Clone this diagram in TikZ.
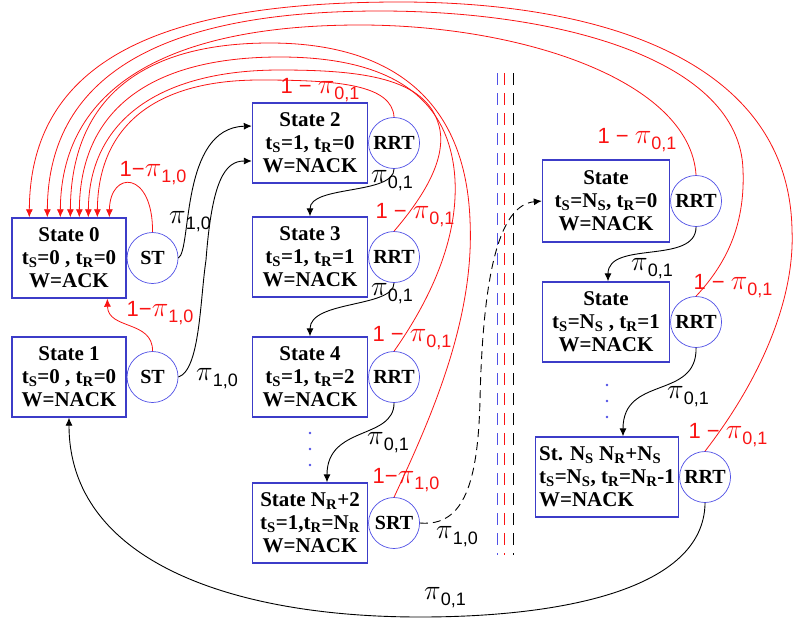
\documentclass[tikz,border=0pt]{standalone}
\usepackage{amsmath}
\usepackage{fontspec}
\setmainfont{LiberationSerif}[Extension=.ttf, UprightFont=*-Regular, BoldFont=*-Bold, ItalicFont=*-Italic]
\setsansfont{Liberation Sans}
\newfontfamily\boxfont{LiberationSerif}[Extension=.ttf, UprightFont=*-Regular, BoldFont=*-Bold]
\usetikzlibrary{positioning,arrows.meta}
\definecolor{boxblue}{RGB}{60,60,200}
\definecolor{ringblue}{RGB}{80,80,230}
\definecolor{arcred}{RGB}{250,20,20}
\newcommand{\pisub}[1]{\scalebox{1.35}{$\pi$}\raisebox{-6pt}{\fontsize{18}{18}\selectfont#1}}
\tikzset{
  statebox/.style={draw=boxblue, line width=1.4pt, minimum width=115pt, minimum height=80pt,
    align=center, inner sep=2pt, font=\boxfont\fontsize{21}{23}\selectfont\bfseries},
  timer/.style={circle, draw=ringblue, line width=0.7pt, fill=white, minimum size=51pt,
    inner sep=0pt, font=\boxfont\fontsize{20}{20}\selectfont\bfseries},
  redarc/.style={draw=arcred, line width=0.8pt, -{Latex[length=8pt,width=7pt]}},
  blkarc/.style={draw=black, line width=0.9pt, -{Latex[length=8pt,width=7pt]}},
  redlab/.style={text=arcred, inner sep=0pt, font=\fontsize{22}{26}\selectfont\sffamily},
  blklab/.style={text=black, inner sep=0pt, font=\fontsize{22}{26}\selectfont\sffamily}
}
\begin{document}
\begin{tikzpicture}[x=1pt,y=-1pt]
\useasboundingbox (0,0) rectangle (794,619);
% states
\node[statebox, minimum width=114pt] (s0) at (69,258) {State 0\\t\textsubscript{S}=0 , t\textsubscript{R}=0\\W=ACK};
\node[statebox, minimum width=114pt] (s1) at (69,377) {State 1\\t\textsubscript{S}=0 , t\textsubscript{R}=0\\W=NACK};
\node[statebox] (s2) at (310,143) {State 2\\t\textsubscript{S}=1, t\textsubscript{R}=0\\W=NACK};
\node[statebox] (s3) at (310,257) {State 3\\t\textsubscript{S}=1, t\textsubscript{R}=1\\W=NACK};
\node[statebox] (s4) at (310,377) {State 4\\t\textsubscript{S}=1, t\textsubscript{R}=2\\W=NACK};
\node[statebox] (sN) at (310,523) {State N\textsubscript{R}+2\\t\textsubscript{S}=1,t\textsubscript{R}=N\textsubscript{R}\\W=NACK};
\node[statebox, minimum width=127pt, minimum height=82pt] (r0) at (606,201) {State\\t\textsubscript{S}=N\textsubscript{S}, t\textsubscript{R}=0\\W=NACK};
\node[statebox, minimum width=127pt] (r1) at (606,322) {State\\t\textsubscript{S}=N\textsubscript{S} , t\textsubscript{R}=1\\W=NACK};
\node[statebox, minimum width=143pt, align=left] (rC) at (607,477) {St. N\textsubscript{S} N\textsubscript{R}+N\textsubscript{S}\\t\textsubscript{S}=N\textsubscript{S}, t\textsubscript{R}=N\textsubscript{R}-1\\W=NACK};
% timers
\node[timer, right=0pt of s0] (st0) {ST};
\node[timer, right=0pt of s1] (st1) {ST};
\node[timer, right=0pt of s2] (rrt2) {RRT};
\node[timer, right=0pt of s3] (rrt3) {RRT};
\node[timer, right=0pt of s4] (rrt4) {RRT};
\node[timer, right=0pt of sN] (srt) {SRT};
\node[timer, right=0pt of r0] (rrtA) {RRT};
\node[timer, right=0pt of r1] (rrtB) {RRT};
\node[timer, right=0pt of rC] (rrtC) {RRT};
% dots and separator
\foreach \y in {433,449,465} \fill[ringblue] (310,\y) circle (1.3pt);
\foreach \y in {385,401,417} \fill[ringblue] (607,\y) circle (1.3pt);
\foreach \x/\c in {497/ringblue,504/arcred,513/black}
  \draw[\c, line width=1pt, dash pattern=on 12pt off 8pt] (\x,73) -- (\x,555);
% back to state 0
\draw[redarc] (st0.north) .. controls (153,170) and (110,170) .. ([xshift=98pt]s0.north west);
\draw[redarc] (st1.north) .. controls (153,320) and (108,330) .. ([xshift=96pt]s0.south west);
\draw[redarc] (rrt2.north) .. controls (392,85) and (340,80) .. (260,80) .. controls (150,80) and (98,130) .. ([xshift=86pt]s0.north west);
\draw[redarc] (rrt3.north) .. controls (425,195) and (445,160) .. (440,130) .. controls (430,80) and (370,70) .. (280,70) .. controls (160,70) and (89,120) .. ([xshift=77pt]s0.north west);
\draw[redarc] (rrt4.north) .. controls (430,300) and (458,240) .. (455,180) .. controls (450,90) and (380,57) .. (280,57) .. controls (150,57) and (80,110) .. ([xshift=68pt]s0.north west);
\draw[redarc] (srt.north) .. controls (430,420) and (475,320) .. (470,220) .. controls (465,90) and (380,43) .. (270,43) .. controls (140,43) and (71,100) .. ([xshift=59pt]s0.north west);
\draw[redarc] (rrtA.north) .. controls (690,80) and (520,25) .. (360,25) .. controls (180,25) and (61,80) .. ([xshift=49pt]s0.north west);
\draw[redarc] (rrtB.north) .. controls (730,260) and (745,220) .. (743,170) .. controls (740,60) and (560,11) .. (380,11) .. controls (170,11) and (48,70) .. ([xshift=36pt]s0.north west);
\draw[redarc] (rrtC.north) .. controls (760,380) and (795,300) .. (792,230) .. controls (789,60) and (600,2) .. (400,2) .. controls (180,2) and (30,50) .. ([xshift=18pt]s0.north west);
% forward transitions
\draw[blkarc] (st0.east) .. controls (192,250) and (180,128) .. ([yshift=17pt]s2.west);
\draw[blkarc] (st1.east) .. controls (200,370) and (200,300) .. (206,260) .. controls (212,180) and (225,161) .. ([yshift=-18pt]s2.west);
\draw[blkarc] (rrt2.south) .. controls (394,195) and (310,185) .. (s3.north);
\draw[blkarc] (rrt3.south) .. controls (394,308) and (310,300) .. (s4.north);
\draw[blkarc] (rrt4.south) .. controls (394,440) and (327,425) .. ([xshift=17pt]sN.north);
\draw[blkarc, dash pattern=on 8pt off 5pt] (srt.east) .. controls (465,527) and (478,480) .. (480,400) .. controls (483,270) and (500,205) .. (r0.west);
\draw[blkarc] (rrtA.south) .. controls (696,265) and (608,240) .. ([xshift=2pt]r1.north);
\draw[blkarc] (rrtB.south) .. controls (697,400) and (623,375) .. ([xshift=16pt]rC.north);
\draw[blkarc] (rrtC.south) .. controls (704,590) and (560,617) .. (420,617) .. controls (230,617) and (69,560) .. (s1.south);
% labels
\node[redlab] (q0) at (153,173) {1−\pisub{1,0}};
\node[redlab] (q1) at (160,313) {1−\pisub{1,0}};
\node[redlab] (q2) at (320,90) {1 − \pisub{0,1}};
\node[redlab] (q3) at (415,215) {1 − \pisub{0,1}};
\node[redlab] (q4) at (412,338) {1 − \pisub{0,1}};
\node[redlab] (q5) at (406,480) {1−\pisub{1,0}};
\node[redlab] (qA) at (637,140) {1 − \pisub{0,1}};
\node[redlab] (qB) at (733,286) {1 − \pisub{0,1}};
\node[redlab] (qC) at (728,435) {1 − \pisub{0,1}};
\node[blklab] (p0) at (190,222) {\pisub{1,0}};
\node[blklab] (p1) at (217,379) {\pisub{1,0}};
\node[blklab] (p2) at (392,181) {\pisub{0,1}};
\node[blklab] (p3) at (392,294) {\pisub{0,1}};
\node[blklab] (p4) at (388,443) {\pisub{0,1}};
\node[blklab] (p5) at (457,537) {\pisub{1,0}};
\node[blklab] (pA) at (652,269) {\pisub{0,1}};
\node[blklab] (pB) at (688,397) {\pisub{0,1}};
\node[blklab] (pC) at (445,598) {\pisub{0,1}};
\end{tikzpicture}
\end{document}
